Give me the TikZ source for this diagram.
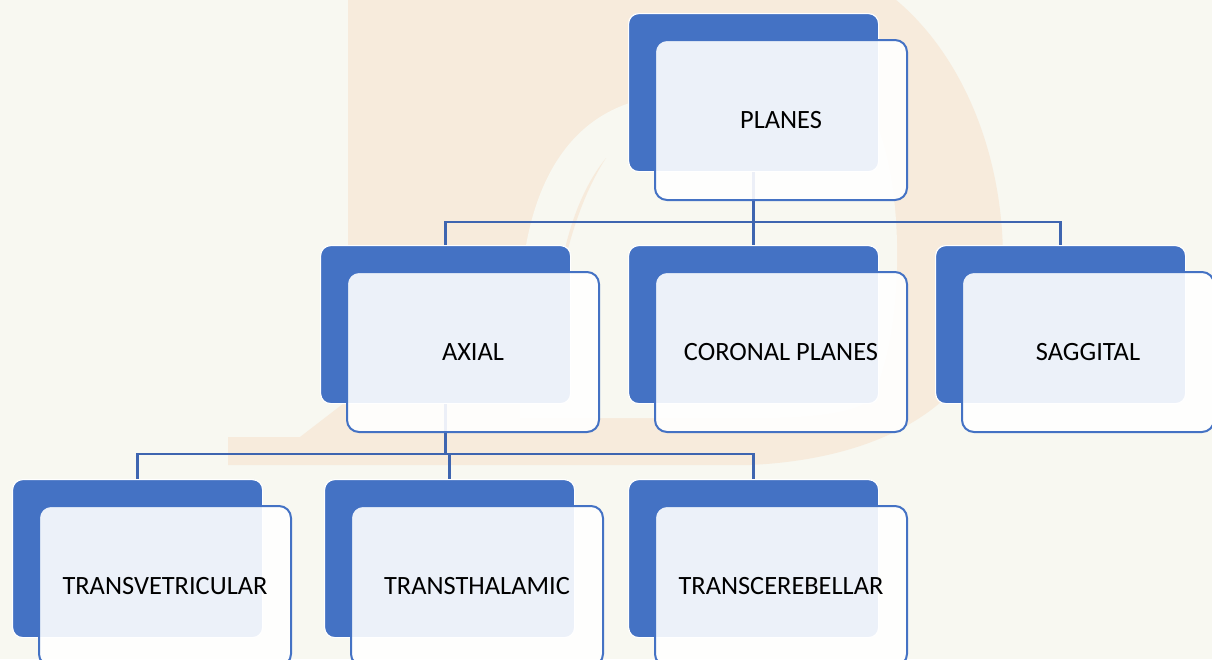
\documentclass[tikz,border=0pt]{standalone}
\usepackage{fontspec}
\setmainfont{Carlito}

\definecolor{bgcream}{HTML}{F8F8F1}
\definecolor{markpeach}{HTML}{F7EBDC}
\definecolor{boxblue}{HTML}{4472C4}
\definecolor{linkblue}{HTML}{3E65B0}

\tikzset{
    backbox/.style={draw=white, line width=1.2pt, fill=boxblue,
        rounded corners=10pt, anchor=north west, inner sep=0pt,
        minimum width=250pt, minimum height=158pt},
    frontbox/.style={draw=boxblue, line width=2pt, fill=white,
        fill opacity=0.9, text opacity=1, rounded corners=12pt,
        anchor=north west, minimum width=252pt, minimum height=160pt,
        font=\fontsize{26.4}{30}\selectfont},
    link/.style={draw=linkblue, line width=2.3pt},
}

\begin{document}
\begin{tikzpicture}[x=1pt, y=-1pt]
    \path[use as bounding box] (0,0) rectangle (1212,659);
    \clip (0,0) rectangle (1212,659);
    \fill[bgcream] (0,0) rectangle (1212,659);

    % faint logo behind the chart
    \fill[markpeach] (348,-5) -- (348,400) -- (300,437) -- (228,437)
        -- (228,465) -- (750,465)
        .. controls (900,458) and (1003,390) .. (1003,260)
        .. controls (1003,150) and (960,50) .. (890,-5) -- cycle;
    \fill[bgcream] (520,418) -- (520,310)
        .. controls (522,200) and (560,120) .. (640,100) -- (860,100)
        .. controls (905,140) and (910,330) .. (870,400)
        .. controls (850,415) and (800,418) .. (760,418) -- cycle;
    \fill[markpeach] (606,158) .. controls (580,190) and (562,240) .. (556,305)
        .. controls (566,245) and (582,195) .. (606,158) -- cycle;

    % back cards
    \foreach \id/\x/\y in {planes/628/13, axial/320/245, coronal/628/245,
            saggital/935/245, transv/12/479, transth/324/479, transc/628/479}
        \node[backbox] (\id-bk) at (\x,\y) {};

    % tree lines
    \foreach \kid in {axial, coronal, saggital}
        \draw[link] (planes-bk.south) -- ++(0,50) -| (\kid-bk.north);
    \foreach \kid in {transv, transth, transc}
        \draw[link] (axial-bk.south) -- ++(0,50) -| (\kid-bk.north);

    % front cards with the labels
    \foreach \id/\txt in {planes/PLANES, axial/AXIAL, coronal/CORONAL PLANES,
            saggital/SAGGITAL, transv/TRANSVETRICULAR,
            transth/TRANSTHALAMIC, transc/TRANSCEREBELLAR}
        \node[frontbox] (\id) at ([shift={(26,26)}]\id-bk.north west) {\txt};
\end{tikzpicture}
\end{document}
